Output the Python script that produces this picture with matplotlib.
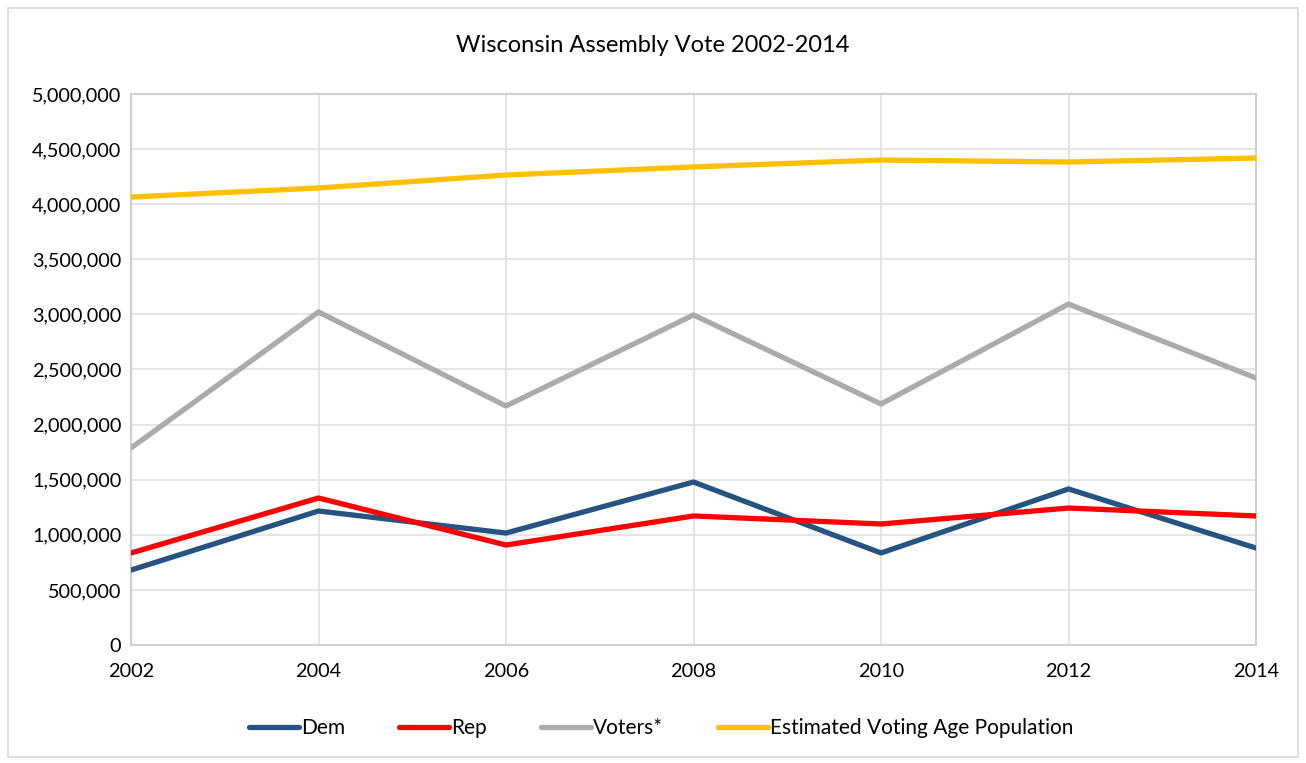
import matplotlib
matplotlib.use("Agg")
import matplotlib.pyplot as plt
from matplotlib.ticker import FuncFormatter
from matplotlib.patches import Rectangle

years = [2002, 2004, 2006, 2008, 2010, 2012, 2014]
dem = [680000, 1216000, 1016000, 1479000, 835000, 1416000, 880000]
rep = [835000, 1334000, 907000, 1171000, 1098000, 1243000, 1171000]
voters = [1788000, 3022000, 2169000, 2995000, 2187000, 3094000, 2423000]
vap = [4065000, 4147000, 4265000, 4338000, 4401000, 4383000, 4419000]

series = [("Dem", dem, "#255480"), ("Rep", rep, "#FF0000"),
          ("Voters*", voters, "#AEAAAA"), ("Estimated Voting Age Population", vap, "#FFC000")]

plt.rcParams['font.family'] = ['Lato', 'DejaVu Sans']

fig = plt.figure(figsize=(13.06, 7.63), dpi=100)
ax = fig.add_axes([131/1306, 1-645/763, (1256-131)/1306, (645-94)/763])

for name, vals, col in series:
    ax.plot(years, vals, color=col, lw=3.8, label=name, solid_capstyle='round', zorder=3)

ax.set_xlim(2002, 2014)
ax.set_ylim(0, 5000000)
ax.set_xticks(years)
ax.set_yticks(range(0, 5000001, 500000))
ax.yaxis.set_major_formatter(FuncFormatter(lambda v, p: f"{int(v):,}"))
ax.grid(True, color="#E0E0E0", lw=1.2, zorder=0)
ax.tick_params(length=0, labelsize=14.3, colors="#000000")
ax.tick_params(axis='x', pad=13)
ax.tick_params(axis='y', pad=7)
for s in ax.spines.values():
    s.set_color("#D0D0D0")
    s.set_linewidth(1.5)

fig.suptitle("Wisconsin Assembly Vote 2002-2014", y=1-45/763, fontsize=17, va='center')

leg = fig.legend(loc='center', bbox_to_anchor=(661/1306, 1-728/763), ncol=4, frameon=False,
                 fontsize=15, handlelength=2.4, columnspacing=2.6, handletextpad=0.1)

fig.patches.append(Rectangle((8/1306, 6/763), 1290/1306, 749/763, transform=fig.transFigure,
                             fill=False, edgecolor="#D9D9D9", lw=1.2))

fig.savefig("out.png", dpi=100)
